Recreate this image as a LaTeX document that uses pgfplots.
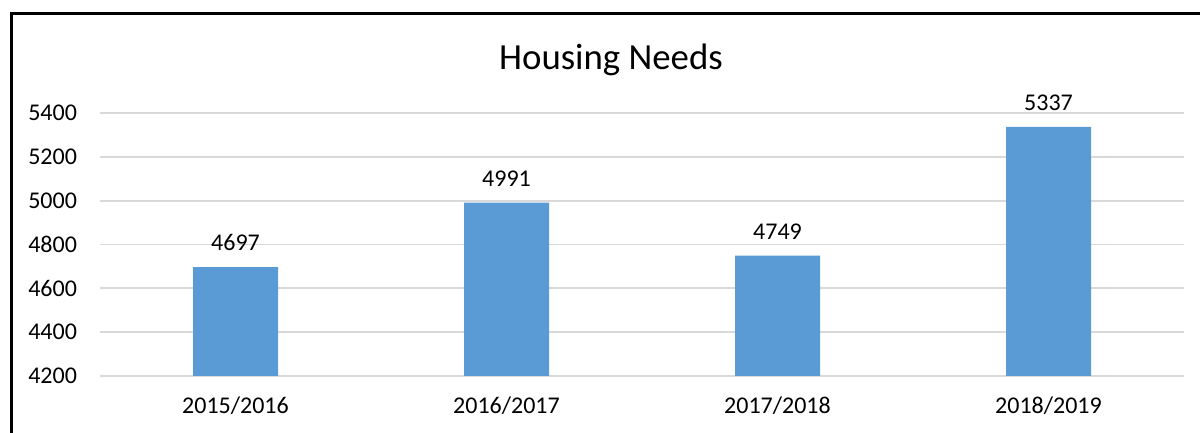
\documentclass[border=0pt]{standalone}
\usepackage{pgfplots}
\pgfplotsset{compat=1.18}
\usepackage{fontspec}
\setmainfont{Carlito}
\definecolor{barblue}{RGB}{91,155,213}
\definecolor{gridgray}{RGB}{217,217,217}
\begin{document}
\begin{tikzpicture}
\useasboundingbox (0,0) rectangle (600pt,216.5pt);
\draw[line width=1.5pt, line cap=rect] (5.5pt,0) -- (5.5pt,209.5pt) -- (600pt,209.5pt);
\begin{axis}[
  at={(50pt,28.5pt)}, anchor=south west,
  scale only axis, width=542pt, height=131.5pt,
  xmin=-0.5, xmax=3.5, ymin=4200, ymax=5400,
  ytick={4200,4400,...,5400},
  xtick=data,
  xticklabels={2015/2016,2016/2017,2017/2018,2018/2019},
  axis line style={draw=none},
  major tick length=0pt,
  ymajorgrids, grid style={gridgray, line width=0.9pt},
  /pgf/number format/assume math mode=true,
  /pgf/number format/1000 sep={},
  tick label style={font=\fontsize{12}{14}\selectfont, text=black},
  yticklabel style={xshift=-8pt},
  xticklabel style={yshift=-7pt},
  nodes near coords,
  nodes near coords style={font=\fontsize{12}{14}\selectfont, anchor=south, yshift=4.5pt},
  clip=false,
]
\addplot[ybar, bar width=42.5pt, fill=barblue, draw=none] coordinates {(0,4697) (1,4991) (2,4749) (3,5337)};
\end{axis}
\node[font=\fontsize{18.4}{22}\selectfont] at (305.5pt,186.5pt) {Housing Needs};
\end{tikzpicture}
\end{document}
